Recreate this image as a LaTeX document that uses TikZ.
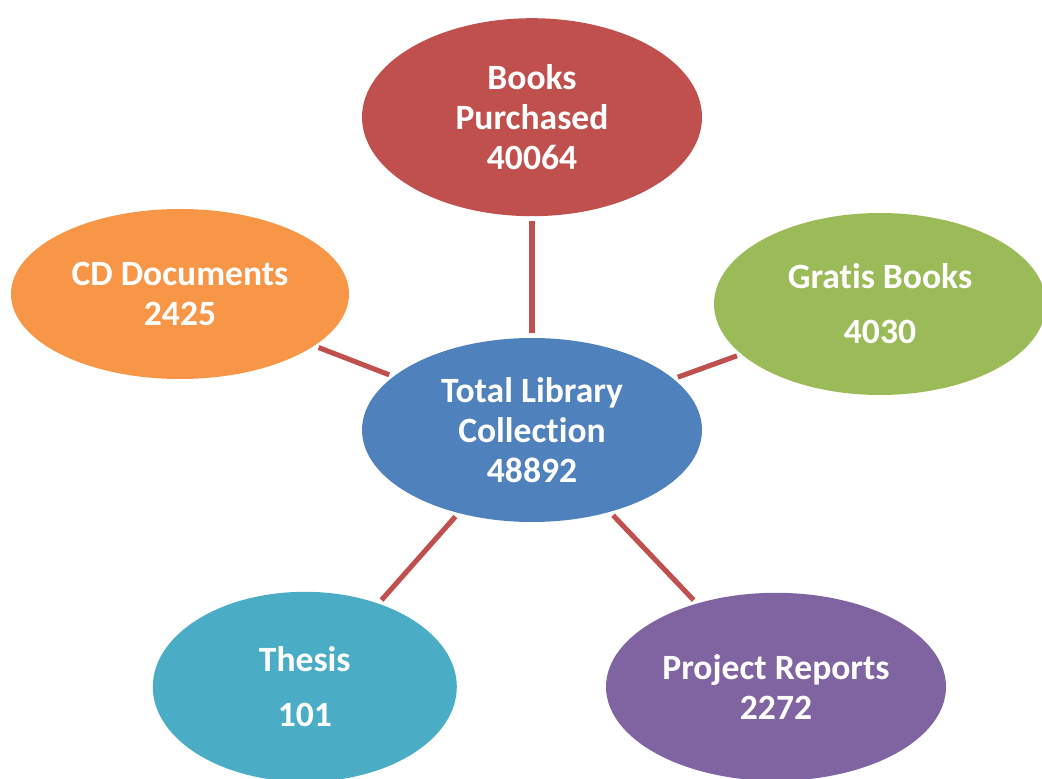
\documentclass[tikz,border=0pt]{standalone}
\usepackage{fontspec}
\setmainfont{Carlito}[Ligatures = NoCommon]
\usetikzlibrary{shapes.geometric}

\definecolor{myblue}{HTML}{4F81BD}
\definecolor{myred}{HTML}{C0504D}
\definecolor{mygreen}{HTML}{9BBB59}
\definecolor{mypurple}{HTML}{8064A2}
\definecolor{myteal}{HTML}{4BACC6}
\definecolor{myorange}{HTML}{F79646}

\begin{document}
\begin{tikzpicture}
		\tikzstyle{every node} = [font = \fontsize{25.3}{28.5}\selectfont\bfseries, text = white, align = center]
		\tikzstyle{bubble} = [ellipse, inner sep = 0pt, outer sep = 0pt]
		\tikzstyle{link} = [myred, line width = 3.6pt, shorten < = .12cm, shorten > = .12cm]
		
		\useasboundingbox (0,0) rectangle (26.05,19.45);
		
		\node [bubble, fill = myblue, minimum width = 8.5cm, minimum height = 4.6cm] (total) at (13.3,8.7) {Total Library\\Collection\\48892};
		\node [bubble, fill = myred, minimum width = 8.5cm, minimum height = 4.95cm] (books) at (13.3,16.52) {Books\\Purchased\\40064};
		\node [bubble, fill = myorange, minimum width = 8.45cm, minimum height = 4.25cm] (cd) at (4.5,12.1) {CD Documents\\2425};
		\node [bubble, fill = mygreen, minimum width = 8.3cm, minimum height = 4.55cm] (gratis) at (22,11.85) {Gratis Books\\[10.5pt]4030};
		\node [bubble, fill = myteal, minimum width = 7.6cm, minimum height = 4.75cm] (thesis) at (7.62,2.28) {Thesis\\[10.5pt]101};
		\node [bubble, fill = mypurple, minimum width = 8.5cm, minimum height = 4.7cm] (project) at (19.4,2.28) {Project Reports\\2272};
		
		\draw [link] (total) -- (books); %centre to top
		\draw [link] (total) -- (cd); %centre to left
		\draw [link] (total) -- (gratis); %centre to right
		\draw [link] (total) -- (thesis); %centre to lower left
		\draw [link] (total) -- (project); %centre to lower right
	\end{tikzpicture}
\end{document}
